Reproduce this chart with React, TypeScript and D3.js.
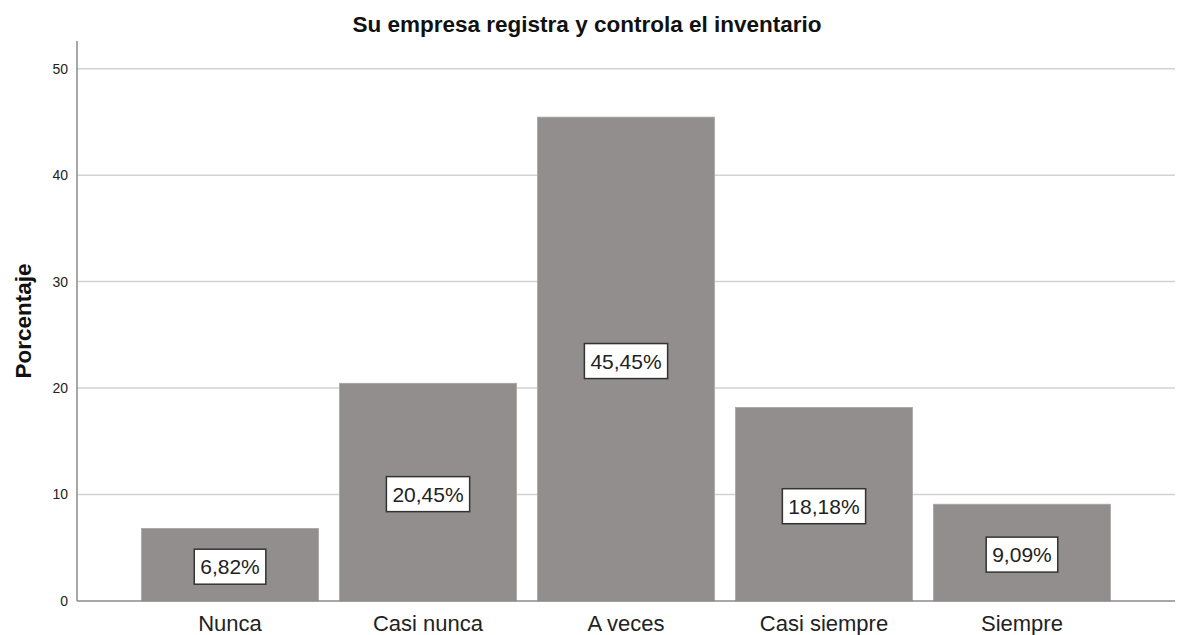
import React, { useEffect, useRef } from "react";
import * as d3 from "d3";

const categories = ["Nunca", "Casi nunca", "A veces", "Casi siempre", "Siempre"];
const values = [6.82, 20.45, 45.45, 18.18, 9.09];
const yTicks = [0, 10, 20, 30, 40, 50];
const title = "Su empresa registra y controla el inventario";
const yTitle = "Porcentaje";

const W = 1179;
const H = 635;
const FONT = "'Liberation Sans', Arial, sans-serif";

export default function App() {
  const ref = useRef<SVGSVGElement | null>(null);

  useEffect(() => {
    const svg = d3.select(ref.current);
    svg.selectAll("*").remove();

    const x0 = 77, x1 = 1175, yBase = 601, yTop = 41;
    const y = d3.scaleLinear().domain([0, 52.6]).range([yBase, yTop]);
    const x = d3
      .scaleBand<string>()
      .domain(categories)
      .range([x0, x1])
      .paddingInner(0.106)
      .paddingOuter(0.326);

    // gridlines
    svg
      .append("g")
      .selectAll("line")
      .data(yTicks.filter((t) => t > 0))
      .join("line")
      .attr("x1", x0)
      .attr("x2", x1)
      .attr("y1", (d) => y(d))
      .attr("y2", (d) => y(d))
      .attr("stroke", "#d2d2d2")
      .attr("stroke-width", 1.5);

    // bars
    svg
      .append("g")
      .selectAll("rect")
      .data(values)
      .join("rect")
      .attr("x", (_, i) => x(categories[i])!)
      .attr("width", x.bandwidth())
      .attr("y", (d) => y(d))
      .attr("height", (d) => yBase - y(d))
      .attr("fill", "#928e8d")
      .attr("stroke", "#a8a5a4")
      .attr("stroke-width", 0.8);

    // axes lines
    svg
      .append("line")
      .attr("x1", x0)
      .attr("x2", x0)
      .attr("y1", yTop)
      .attr("y2", yBase)
      .attr("stroke", "#8a8a8a")
      .attr("stroke-width", 1.5);
    svg
      .append("line")
      .attr("x1", x0)
      .attr("x2", x1)
      .attr("y1", yBase)
      .attr("y2", yBase)
      .attr("stroke", "#8a8a8a")
      .attr("stroke-width", 1.5);

    // y tick labels
    svg
      .append("g")
      .selectAll("text")
      .data(yTicks)
      .join("text")
      .attr("x", 68)
      .attr("y", (d) => y(d))
      .attr("dy", "0.35em")
      .attr("text-anchor", "end")
      .attr("font-family", FONT)
      .attr("font-size", 14)
      .attr("fill", "#222")
      .text((d) => String(d));

    // x labels
    svg
      .append("g")
      .selectAll("text")
      .data(categories)
      .join("text")
      .attr("x", (d) => x(d)! + x.bandwidth() / 2)
      .attr("y", 631)
      .attr("text-anchor", "middle")
      .attr("font-family", FONT)
      .attr("font-size", 22)
      .attr("fill", "#222")
      .text((d) => d);

    // title
    svg
      .append("text")
      .attr("x", 587)
      .attr("y", 32)
      .attr("text-anchor", "middle")
      .attr("font-family", FONT)
      .attr("font-size", 22.5)
      .attr("font-weight", "bold")
      .attr("fill", "#111")
      .text(title);

    // y title
    svg
      .append("text")
      .attr("transform", "translate(31,321) rotate(-90)")
      .attr("text-anchor", "middle")
      .attr("font-family", FONT)
      .attr("font-size", 22.5)
      .attr("font-weight", "bold")
      .attr("fill", "#111")
      .text(yTitle);

    // value labels
    const lg = svg.append("g");
    values.forEach((v, i) => {
      const cx = x(categories[i])! + x.bandwidth() / 2;
      const cy = (y(v) + yBase) / 2 + 2;
      const label = v.toFixed(2).replace(".", ",") + "%";
      const g = lg.append("g");
      const rect = g.append("rect");
      const t = g
        .append("text")
        .attr("x", cx)
        .attr("y", cy)
        .attr("dy", "0.36em")
        .attr("text-anchor", "middle")
        .attr("font-family", FONT)
        .attr("font-size", 21)
        .attr("fill", "#222")
        .text(label);
      const tw = (t.node() as SVGTextElement).getComputedTextLength();
      const bw = tw + 12;
      const bh = 35;
      rect
        .attr("x", cx - bw / 2)
        .attr("y", cy - bh / 2)
        .attr("width", bw)
        .attr("height", bh)
        .attr("fill", "#fff")
        .attr("stroke", "#333")
        .attr("stroke-width", 1.5);
    });
  }, []);

  return (
    <svg
      ref={ref}
      width={W}
      height={H}
      style={{ position: "absolute", left: 0, top: 0, background: "#fff" }}
    />
  );
}
